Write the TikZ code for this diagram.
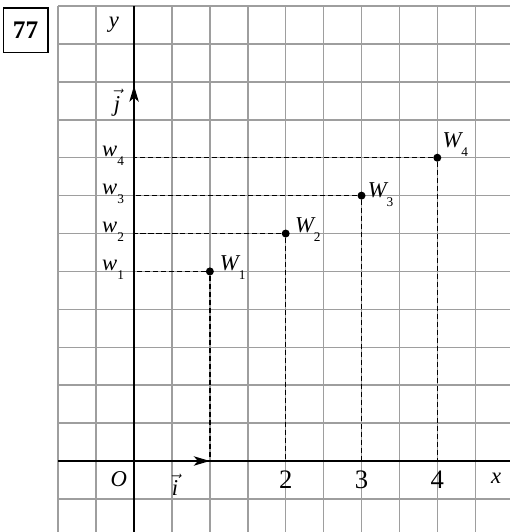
\documentclass[tikz,border=0pt]{standalone}
\usepackage{amsmath}
\usepackage{amssymb}
\usepackage{fontspec}
\setmainfont{Liberation Serif}
\usetikzlibrary{arrows.meta,calc}
\newcommand{\lowsub}[1]{\raisebox{-6.8pt}{\fontsize{10}{10}\selectfont #1}}

\begin{document}
\begin{tikzpicture}[x=1cm,y=1cm,
	gridline/.style={draw=black!38,line width=1.1pt},
	axisline/.style={line width=1.4pt},
	vecline/.style={line width=1.4pt,-{Stealth[length=12pt,width=7pt,inset=3pt]}},
	proj/.style={dashed,line width=1.1pt,dash pattern=on 3.8pt off 2.2pt},
	dot/.style={circle,fill,inner sep=0pt,minimum size=6pt},
	lab/.style={inner sep=0pt,font=\fontsize{17}{20}\selectfont\itshape},
	numlab/.style={inner sep=0pt,font=\fontsize{20}{24}\selectfont}]
	\useasboundingbox (-3.536,-1.873) rectangle (9.92,12.16);
	\draw[gridline] (-2,-1.873) grid (9.92,12);
	\node (num) at (-2.86,11.36) [draw,line width=0.9pt,minimum size=33.5pt,inner sep=0pt,font=\fontsize{19}{22}\bfseries\selectfont]{77};
	\coordinate (xl) at (-2,0);
	\coordinate (xr) at (9.92,0);
	\coordinate (yb) at (0,-1.873);
	\coordinate (yt) at (0,12);
	\coordinate (O) at (0,0);
	\draw[axisline] (xl) -- (xr);
	\draw[axisline] (yb) -- (yt);
	\draw[vecline] (O) -- (2,0) coordinate (itip);
	\draw[vecline] (O) -- (0,9.9) coordinate (jtip);
	\node (ylab) at (-0.53,11.5) [lab]{y};
	\node (xlab) at (9.55,-0.45) [lab]{x};
	\node (olab) at (-0.4,-0.47) [lab]{O};
	\node (ilab) at (1.08,-0.62) [lab]{$\vec{\textit{i}}$};
	\node (jlab) at (-0.45,9.45) [lab]{$\vec{\textit{j}}$};
	\foreach \n/\x/\y/\dx/\dy in {1/2/5/0.26/0.03, 2/4/6/0.24/0.03, 3/6/7/0.16/-0.05, 4/8/8/0.13/0.26} {
		\node (W\n) at (\x,\y) [dot]{};
		\coordinate (ya\n) at (0,\y);
		\coordinate (xa\n) at (\x,0);
		\draw[proj] (W\n) -- (ya\n);
		\draw[proj] (W\n) -- (xa\n);
		\node (Wlab\n) at ($(W\n)+(\dx,\dy)$) [lab,anchor=base west]{W\lowsub{\upshape\n}};
		\node (wlab\n) at (-0.26,\y+0.03) [lab,anchor=base east]{w\lowsub{\upshape\n}};
	}
	\foreach \x/\t in {4/2, 6/3, 8/4}
		\node (n\t) at (\x,-0.49) [numlab]{\t};
\end{tikzpicture}
\end{document}
